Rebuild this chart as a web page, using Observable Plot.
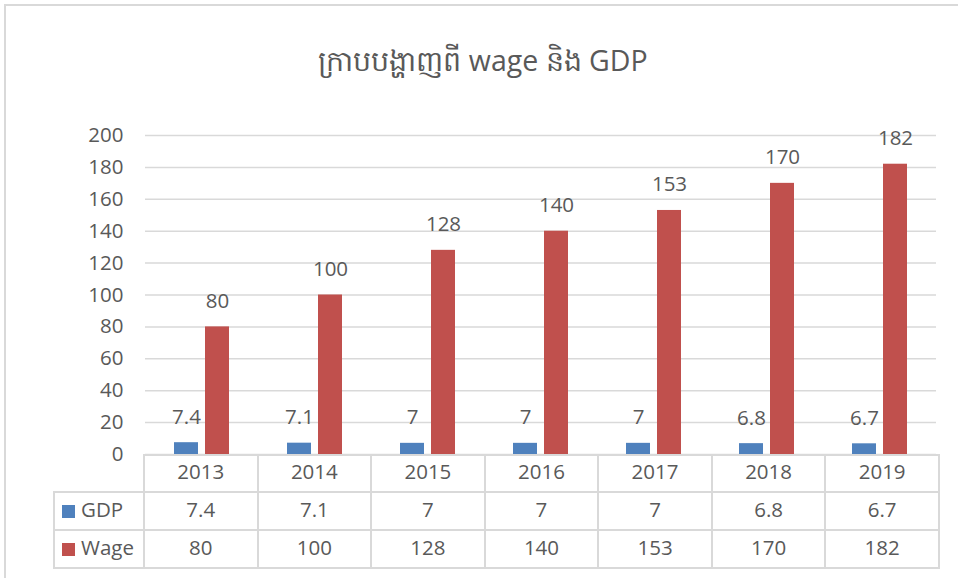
<!DOCTYPE html>
<html>
<head>
<meta charset="utf-8">
<script src="https://cdn.jsdelivr.net/npm/d3@7"></script>
<script src="https://cdn.jsdelivr.net/npm/@observablehq/plot@0.6"></script>
<style>
  html, body { margin: 0; padding: 0; background: #fff; }
  #wrap { position: relative; width: 958px; height: 578px; overflow: hidden; font-family: "Open Sans", "Noto Sans", sans-serif; color: #595959; }
  #border { position: absolute; left: 4px; top: 4px; width: 1200px; height: 1200px; border: 2px solid #d9d9d9; box-sizing: border-box; }
  #title { position: absolute; left: 0; top: 46px; width: 966px; text-align: center; font-size: 28.5px; line-height: 1; white-space: nowrap; }
  #chart { position: absolute; left: 0; top: 0; }
  #tbl { position: absolute; left: 53px; top: 454px; border-collapse: collapse; table-layout: fixed; font-size: 20.5px; color: #595959; }
  #tbl td { border: 2px solid #d9d9d9; text-align: center; padding: 0 0 5px 0; white-space: nowrap; }
  #tbl td.corner { border-top: none; border-left: none; }
  #tbl td.lab { text-align: left; padding-left: 7px; }
  .sw { display: inline-block; width: 13px; height: 13px; margin-right: 6px; vertical-align: -1px; }
</style>
</head>
<body>
<div id="wrap">
  <div id="border"></div>
  <div id="title">ក្រាបបង្ហាញពី wage និង GDP</div>
  <div id="chart"></div>
</div>
<script>
const years = ["2013", "2014", "2015", "2016", "2017", "2018", "2019"];
const gdp = [7.4, 7.1, 7, 7, 7, 6.8, 6.7];
const wage = [80, 100, 128, 140, 153, 170, 182];
const seriesNames = ["GDP", "Wage"];
const seriesColors = ["#4f81bd", "#c0504d"];
const yTicks = [0, 20, 40, 60, 80, 100, 120, 140, 160, 180, 200];

const rows = years.flatMap((yr, i) => [
  {year: yr, series: "GDP", value: gdp[i]},
  {year: yr, series: "Wage", value: wage[i]}
]);

const plot = Plot.plot({
  width: 958,
  height: 578,
  marginLeft: 143,
  marginRight: 20,
  marginTop: 135,
  marginBottom: 124,
  style: {fontFamily: "'Open Sans', 'Noto Sans', sans-serif", fontSize: "20.5px", color: "#595959", background: "transparent", overflow: "visible"},
  fx: {domain: years, padding: 0, axis: null},
  x: {domain: seriesNames, paddingInner: 0.22, paddingOuter: 0.88, axis: null},
  y: {domain: [0, 200], axis: null},
  color: {domain: seriesNames, range: seriesColors},
  marks: [
    Plot.gridY(yTicks, {stroke: "#d9d9d9", strokeOpacity: 1, strokeWidth: 1.5}),
    Plot.axisY(yTicks, {tickSize: 0, tickPadding: 22, label: null, fontSize: 20.5, fill: "#595959"}),
    Plot.barY(rows, {fx: "year", x: "series", y: "value", fill: "series"}),
    Plot.text(rows, {fx: "year", x: "series", y: "value", text: d => String(d.value), lineAnchor: "bottom", dy: -19, fontSize: 20.5, fill: "#595959"})
  ]
});
document.getElementById("chart").appendChild(plot);

// data table below the axis
const colW = (938 - 143) / years.length;
const tbl = document.createElement("table");
tbl.id = "tbl";
const cg = document.createElement("colgroup");
const c0 = document.createElement("col"); c0.style.width = "90px"; cg.appendChild(c0);
years.forEach(() => { const c = document.createElement("col"); c.style.width = colW + "px"; cg.appendChild(c); });
tbl.appendChild(cg);
tbl.style.width = (90 + colW * years.length) + "px";
const hr = document.createElement("tr"); hr.style.height = "37px";
const corner = document.createElement("td"); corner.className = "corner"; hr.appendChild(corner);
years.forEach(yr => { const td = document.createElement("td"); td.textContent = yr; hr.appendChild(td); });
tbl.appendChild(hr);
[[gdp, 0], [wage, 1]].forEach(([vals, k]) => {
  const tr = document.createElement("tr"); tr.style.height = "38px";
  const lab = document.createElement("td"); lab.className = "lab";
  const sw = document.createElement("span"); sw.className = "sw"; sw.style.background = seriesColors[k];
  lab.appendChild(sw); lab.appendChild(document.createTextNode(seriesNames[k]));
  tr.appendChild(lab);
  vals.forEach(v => { const td = document.createElement("td"); td.textContent = String(v); tr.appendChild(td); });
  tbl.appendChild(tr);
});
document.getElementById("wrap").appendChild(tbl);
</script>
</body>
</html>
